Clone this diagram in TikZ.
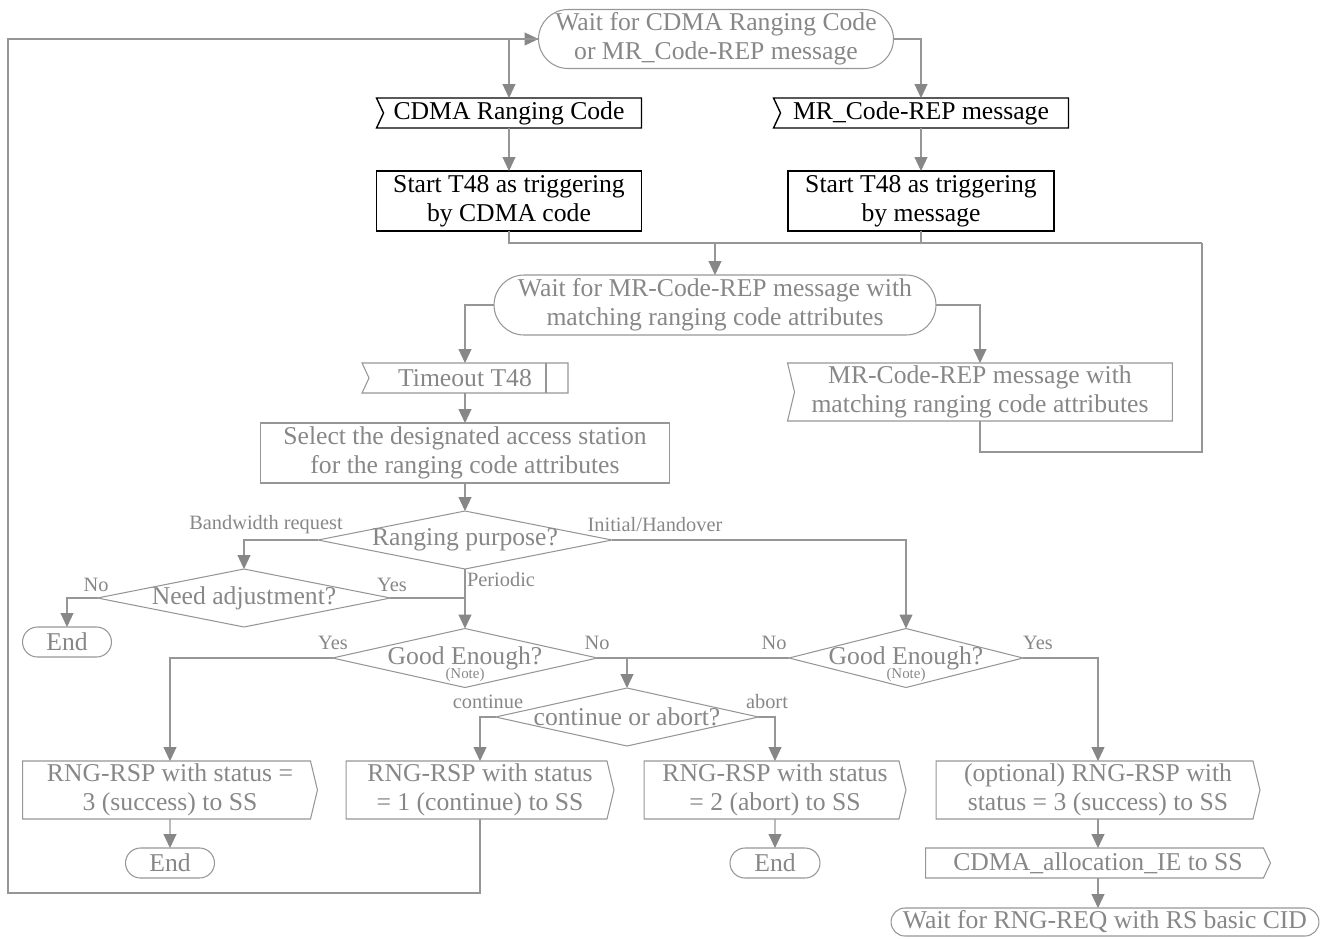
\documentclass[tikz,border=0pt]{standalone}
\usepackage{fontspec}
\setmainfont{Liberation Serif}
\usetikzlibrary{shapes.geometric,shapes.misc,arrows.meta}
\definecolor{ln}{RGB}{150,150,150}
\definecolor{tx}{RGB}{135,135,135}
\definecolor{tip}{RGB}{135,135,135}
\newcommand{\bigtxt}{\fontsize{14.6pt}{16.5pt}\selectfont}
\newcommand{\lbltxt}{\fontsize{11.6pt}{13pt}\selectfont}
\newcommand{\notetxt}{\fontsize{8.5pt}{10pt}\selectfont}
\tikzset{
  base/.style={font=\bigtxt, text=tx, align=center, inner sep=0pt, outer sep=0pt},
  term/.style={base, rounded rectangle, draw=ln, line width=0.6pt},
  proc/.style={base, rectangle, draw=ln, line width=0.6pt},
  blkproc/.style={base, rectangle, draw=black, text=black, line width=0.8pt},
  sigin/.style={base, append after command={\pgfextra{\draw[#1] (\tikzlastnode.north west) -- (\tikzlastnode.north east) -- (\tikzlastnode.south east) -- (\tikzlastnode.south west) -- ([xshift=0.14cm]\tikzlastnode.west) -- cycle;}}},
  sigin/.default={ln,line width=0.6pt},
  sigout/.style={base, append after command={\pgfextra{\draw[ln,line width=0.6pt] (\tikzlastnode.north west) -- ([xshift=-0.14cm]\tikzlastnode.north east) -- (\tikzlastnode.east) -- ([xshift=-0.14cm]\tikzlastnode.south east) -- (\tikzlastnode.south west) -- cycle;}}},
  timer/.style={sigin, append after command={\pgfextra{\draw[ln,line width=0.6pt] ([xshift=-0.44cm]\tikzlastnode.north east) -- ([xshift=-0.44cm]\tikzlastnode.south east);}}},
  decision/.style={base, diamond, draw=ln, line width=0.6pt},
  lbl/.style={font=\lbltxt, text=tx, inner sep=0pt},
  lnk/.style={draw=ln, line width=0.6pt},
  arr/.style={lnk, -{Triangle[length=0.28cm,width=0.26cm,color=tip]}}
}
\begin{document}
\begin{tikzpicture}[x=0.02cm, y=-0.02cm]
\useasboundingbox (0,0) rectangle (1330,938);

\node[term, minimum width=7.1cm, minimum height=1.18cm] (wait1) at (716,39) {Wait for CDMA Ranging Code\\or MR\_Code-REP message};
\node[sigin={black,line width=0.8pt}, text=black, minimum width=5.3cm, minimum height=0.6cm] (cdma) at (509,113) {CDMA Ranging Code};
\node[sigin={black,line width=0.8pt}, text=black, minimum width=5.9cm, minimum height=0.6cm] (mrcode) at (921,113) {MR\_Code-REP message};
\node[blkproc, minimum width=5.3cm, minimum height=1.2cm] (startc) at (509,201) {Start T48 as triggering\\by CDMA code};
\node[blkproc, minimum width=5.32cm, minimum height=1.2cm] (startm) at (921,201) {Start T48 as triggering\\by message};
\node[term, minimum width=8.84cm, minimum height=1.2cm] (wait2) at (715,305) {Wait for MR-Code-REP message with\\matching ranging code attributes};
\node[timer, minimum width=4.12cm, minimum height=0.6cm] (timeout) at (465,378) {Timeout T48};
\node[sigin, minimum width=7.7cm, minimum height=1.16cm] (mrmatch) at (980,392) {MR-Code-REP message with\\matching ranging code attributes};
\node[proc, minimum width=8.2cm, minimum height=1.2cm] (select) at (465,453) {Select the designated access station\\for the ranging code attributes};

\node[decision, minimum width=5.88cm, minimum height=1.16cm, label={[base]center:Ranging purpose?}] (purpose) at (465,540) {};
\node[decision, minimum width=5.86cm, minimum height=1.16cm, label={[base]center:Need adjustment?}] (needadj) at (244,598) {};
\node[term, minimum width=1.78cm, minimum height=0.6cm] (end1) at (67,642) {End};
\node[decision, minimum width=5.3cm, minimum height=1.18cm, label={[base]center:Good Enough?}, label={[base,font=\notetxt,yshift=-0.34cm]center:(Note)}] (good1) at (465,658) {};
\node[decision, minimum width=4.68cm, minimum height=1.18cm, label={[base]center:Good Enough?}, label={[base,font=\notetxt,yshift=-0.34cm]center:(Note)}] (good2) at (906,658) {};
\node[decision, minimum width=5.26cm, minimum height=1.16cm, label={[base]center:continue or abort?}] (contab) at (627,717) {};

\node[sigout, minimum width=5.9cm, minimum height=1.16cm] (succ) at (170,790) {RNG-RSP with status =\\3 (success) to SS};
\node[sigout, minimum width=5.36cm, minimum height=1.16cm] (cont) at (480,790) {RNG-RSP with status\\= 1 (continue) to SS};
\node[sigout, minimum width=5.24cm, minimum height=1.16cm] (abort) at (775,790) {RNG-RSP with status\\= 2 (abort) to SS};
\node[sigout, minimum width=6.48cm, minimum height=1.16cm] (opt) at (1098,790) {(optional) RNG-RSP with\\status = 3 (success) to SS};
\node[term, minimum width=1.78cm, minimum height=0.6cm] (end2) at (170,863) {End};
\node[term, minimum width=1.8cm, minimum height=0.6cm] (end3) at (775,863) {End};
\node[sigout, minimum width=6.9cm, minimum height=0.6cm] (alloc) at (1098,863) {CDMA\_allocation\_IE to SS};
\node[term, minimum width=8.56cm, minimum height=0.56cm] (wait3) at (1105,922) {Wait for RNG-REQ with RS basic CID};

\node[lbl] (bwreq) at (266,525) {Bandwidth request};
\node[lbl] (inho) at (655,525) {Initial/Handover};
\node[lbl] (perio) at (501,580) {Periodic};
\node[lbl] (noadj) at (96,585) {No};
\node[lbl] (yesadj) at (392,585) {Yes};
\node[lbl] (yesgd1) at (333,643) {Yes};
\node[lbl] (nogd1) at (597,643) {No};
\node[lbl] (nogd2) at (774,643) {No};
\node[lbl] (yesgd2) at (1038,643) {Yes};
\node[lbl] (contlbl) at (488,702) {continue};
\node[lbl] (abortlbl) at (767,702) {abort};

\coordinate (loopbl) at (8,893);
\coordinate (mergeR) at (1202,243);
\coordinate (loopR) at (1202,452);

\draw[arr] (cont.south) |- (loopbl) |- (wait1.west);
\draw[arr] (wait1.west) -| (cdma.north);
\draw[arr] (wait1.east) -| (mrcode.north);
\draw[arr] (cdma) -- (startc);
\draw[arr] (mrcode) -- (startm);
\draw[lnk] (startc.south) |- (mergeR);
\draw[lnk] (startm.south) -- (startm.south |- mergeR);
\draw[arr] (wait2.north |- mergeR) -- (wait2.north);
\draw[lnk] (mrmatch.south) |- (loopR) -- (mergeR);
\draw[arr] (wait2.west) -| (timeout.north);
\draw[arr] (wait2.east) -| (mrmatch.north);
\draw[arr] (timeout) -- (select);
\draw[arr] (select) -- (purpose);
\draw[arr] (purpose.west) -| (needadj.north);
\draw[arr] (purpose.east) -| (good2.north);
\draw[arr] (purpose.south) -- (good1.north);
\draw[arr] (needadj.west) -| (end1.north);
\draw[lnk] (needadj.east) -- (needadj.east -| purpose.south);
\draw[arr] (good1.west) -| (succ.north);
\draw[lnk] (good1.east) -- (good2.west);
\draw[arr] (contab.north |- good1.east) -- (contab.north);
\draw[arr] (good2.east) -| (opt.north);
\draw[arr] (contab.west) -| (cont.north);
\draw[arr] (contab.east) -| (abort.north);
\draw[arr] (succ) -- (end2);
\draw[arr] (abort) -- (end3);
\draw[arr] (opt) -- (alloc);
\draw[arr] (alloc.south) -- (alloc.south |- wait3.north);
\end{tikzpicture}
\end{document}
